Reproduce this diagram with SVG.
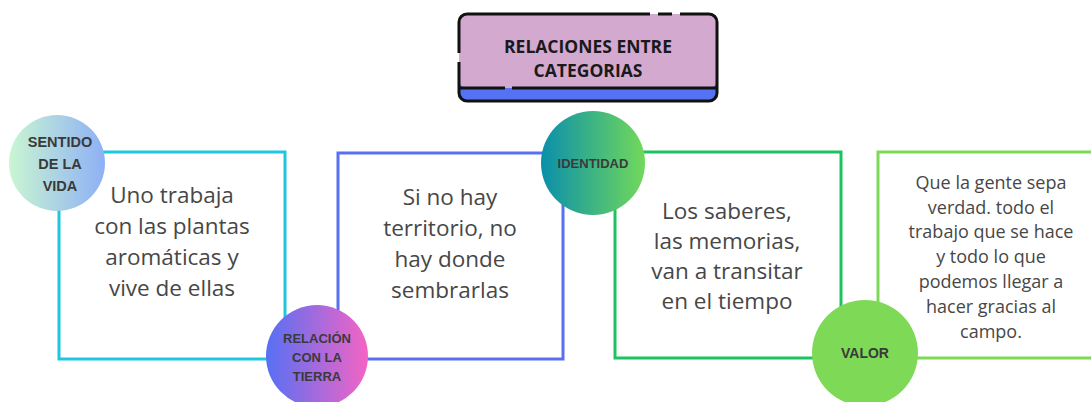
<svg xmlns="http://www.w3.org/2000/svg" width="1091" height="402" viewBox="0 0 1091 402">
<defs>
<style>
.box{fill:none;stroke-width:3}
.body{font-family:"Open Sans","Noto Sans",sans-serif;font-size:22.5px;fill:#474747;text-anchor:middle}
.small{font-family:"Open Sans","Noto Sans",sans-serif;font-size:18px;fill:#474747;text-anchor:middle}
.lab{font-family:"Liberation Sans",Arial,sans-serif;font-weight:bold;fill:#3a3a3a;text-anchor:middle}
.title{font-family:"Open Sans","Noto Sans",sans-serif;font-weight:bold;font-size:17.5px;fill:#1a1a1a;text-anchor:middle}
</style>
<linearGradient id="g1" x1="0" y1="0" x2="1" y2="0"><stop offset="0" stop-color="#c9f6d2"/><stop offset="1" stop-color="#8eb0f6"/></linearGradient>
<linearGradient id="g2" x1="0" y1="0" x2="1" y2="0"><stop offset="0" stop-color="#5670f4"/><stop offset="1" stop-color="#f464c4"/></linearGradient>
<linearGradient id="g3" x1="0" y1="0" x2="1" y2="0"><stop offset="0" stop-color="#0a8fab"/><stop offset="1" stop-color="#72d95a"/></linearGradient>
</defs>
<rect width="1091" height="402" fill="#ffffff"/>
<g id="title">
<rect x="459" y="14" width="258" height="87" rx="8" fill="#5572f2"/>
<rect x="459" y="14" width="258" height="74" rx="8" fill="#d4a9d0"/>
<path d="M650,14 H467 A8,8 0 0 0 459,22 V53 M459,62 V93 A8,8 0 0 0 467,101 H709 A8,8 0 0 0 717,93 V22 A8,8 0 0 0 709,14 H680 M672,14 H658 M459,88 H505 M512,88 H717" fill="none" stroke="#111" stroke-width="3"/>
<text class="title" x="588" y="53">RELACIONES ENTRE</text>
<text class="title" x="588" y="77">CATEGORIAS</text>
</g>
<g id="connectors"></g>
<g id="box1">
<rect class="box" x="59" y="152" width="226" height="207" stroke="#1ec6e0"/>
<text class="body" x="172" y="203">Uno trabaja</text>
<text class="body" x="172" y="234">con las plantas</text>
<text class="body" x="172" y="265">aromáticas y</text>
<text class="body" x="172" y="296">vive de ellas</text>
</g>
<g id="box2">
<rect class="box" x="338" y="153" width="225" height="206" stroke="#5a70f4"/>
<text class="body" x="450" y="205">Si no hay</text>
<text class="body" x="450" y="236">territorio, no</text>
<text class="body" x="450" y="267">hay donde</text>
<text class="body" x="450" y="298">sembrarlas</text>
</g>
<g id="box3">
<rect class="box" x="615" y="152" width="226" height="206" stroke="#1cc461"/>
<text class="body" x="727" y="219">Los saberes,</text>
<text class="body" x="727" y="249">las memorias,</text>
<text class="body" x="727" y="279">van a transitar</text>
<text class="body" x="727" y="309">en el tiempo</text>
</g>
<g id="box4">
<rect class="box" x="878" y="152" width="230" height="206" stroke="#7ed957"/>
<text class="small" x="991" y="189">Que la gente sepa</text>
<text class="small" x="991" y="214">verdad. todo el</text>
<text class="small" x="991" y="238">trabajo que se hace</text>
<text class="small" x="991" y="263">y todo lo que</text>
<text class="small" x="991" y="288">podemos llegar a</text>
<text class="small" x="991" y="313">hacer gracias al</text>
<text class="small" x="991" y="338">campo.</text>
</g>
<g id="c-sentido">
<circle cx="57" cy="163" r="48" fill="url(#g1)"/>
<text class="lab" font-size="14.5" x="60" y="147">SENTIDO</text>
<text class="lab" font-size="14.5" x="60" y="169">DE LA</text>
<text class="lab" font-size="14.5" x="60" y="191">VIDA</text>
</g>
<g id="c-relacion">
<circle cx="317" cy="356" r="51" fill="url(#g2)"/>
<text class="lab" font-size="13" x="317" y="343">RELACIÓN</text>
<text class="lab" font-size="13" x="317" y="362">CON  LA</text>
<text class="lab" font-size="13" x="317" y="381">TIERRA</text>
</g>
<g id="c-identidad">
<circle cx="593" cy="163" r="52" fill="url(#g3)"/>
<text class="lab" font-size="13" x="593" y="168">IDENTIDAD</text>
</g>
<g id="c-valor">
<circle cx="865" cy="353" r="53" fill="#7ed957"/>
<text class="lab" font-size="14" x="865" y="358">VALOR</text>
</g>
</svg>
